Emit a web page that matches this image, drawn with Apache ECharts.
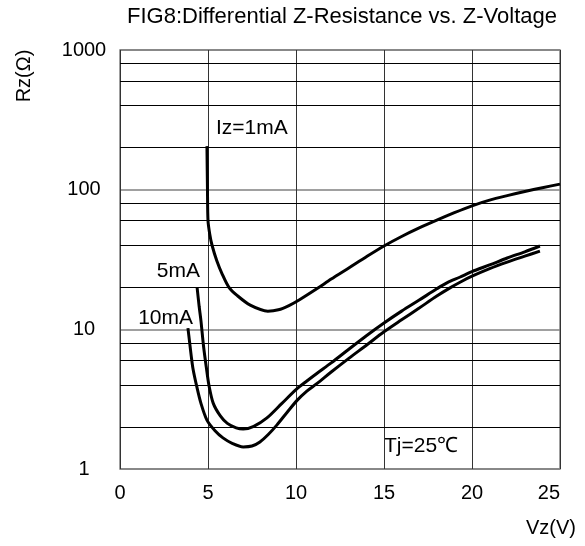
<!DOCTYPE html>
<html>
<head>
<meta charset="utf-8">
<script src="https://cdn.jsdelivr.net/npm/echarts@6/dist/echarts.min.js"></script>
<style>
  html, body { margin: 0; padding: 0; background: #fff; }
  #chart { width: 585px; height: 546px; }
</style>
</head>
<body>
<div id="chart"></div>
<script>
// Zener differential resistance Rz (ohm) against zener voltage Vz (V), Tj = 25 C
const xTicks = [0, 5, 10, 15, 20, 25];
const yDecades = [1, 10, 100, 1000];
const yMinorLines = [2, 4, 6, 8, 20, 40, 60, 80, 200, 400, 600, 800];

const iz1mA = [
  [4.94, 205], [4.97, 100], [5.0, 60], [5.1, 48], [5.23, 40], [5.5, 31],
  [5.8, 25], [6.19, 20], [6.65, 17.5], [7.4, 14.9], [8.4, 13.5], [9.0, 13.8],
  [9.6, 14.8], [10.2, 16.3], [11.2, 19.6], [12.0, 22.9], [13.0, 27.5],
  [14.0, 33.1], [15.0, 39.5], [16.0, 46.2], [17.0, 53.2], [18.0, 60.5],
  [19.0, 68.4], [20.0, 76.6], [21.0, 84.1], [22.0, 90.6], [23.0, 97],
  [24.0, 103.3], [25.0, 109.6]
];

const iz5mA = [
  [4.38, 20], [4.5, 14.5], [4.6, 11.5], [4.75, 7.5], [4.9, 5.4], [5.05, 4.0],
  [5.3, 2.95], [5.7, 2.4], [6.1, 2.12], [6.6, 1.97], [7.0, 1.93], [7.6, 2.02],
  [8.35, 2.32], [9.2, 2.95], [10.0, 3.7], [10.6, 4.25], [11.2, 4.85],
  [12.0, 5.75], [13.0, 7.2], [14.0, 9.0], [15.0, 11.1], [16.0, 13.5],
  [17.0, 16.2], [18.0, 19.5], [18.6, 21.6], [19.3, 23.6], [20.0, 25.9],
  [21.0, 28.9], [22.0, 32.4], [23.0, 35.9], [23.86, 39.5]
];

const iz10mA = [
  [3.86, 10.2], [3.95, 8.2], [4.05, 6.4], [4.15, 5.2], [4.36, 3.9],
  [4.6, 2.95], [4.94, 2.24], [5.4, 1.88], [5.85, 1.67], [6.4, 1.52],
  [7.0, 1.44], [7.5, 1.46], [7.95, 1.56], [8.45, 1.78], [8.92, 2.07],
  [9.5, 2.55], [10.06, 3.1], [10.6, 3.6], [11.2, 4.1], [12.0, 4.95],
  [13.0, 6.2], [14.0, 7.7], [15.0, 9.6], [16.0, 11.7], [17.0, 14.2],
  [18.0, 17.3], [18.75, 19.8], [19.4, 22.0], [20.0, 24.0], [21.0, 27.2],
  [22.0, 30.3], [23.0, 33.4], [23.86, 36.3]
];

const FONT = '"Liberation Sans", Arial, sans-serif';
const chart = echarts.init(document.getElementById('chart'), null, { renderer: 'canvas' });

function curve(name, data, extra) {
  return Object.assign({
    name: name,
    type: 'line',
    data: data,
    showSymbol: false,
    smooth: 0.3,
    lineStyle: { color: '#000', width: 3 },
    silent: true,
    z: 5
  }, extra || {});
}

function label(text, x, y, align, size) {
  return {
    type: 'text',
    style: {
      text: text, x: x, y: y, font: (size || 21) + 'px ' + FONT, fill: '#000',
      textAlign: align, textVerticalAlign: 'middle'
    }
  };
}

chart.setOption({
  animation: false,
  backgroundColor: '#fff',
  textStyle: { fontFamily: FONT },
  grid: {
    left: 120, right: 25, top: 50, bottom: 77,
    show: true, borderColor: '#808080', borderWidth: 1.5
  },
  xAxis: {
    type: 'value',
    min: xTicks[0],
    max: xTicks[xTicks.length - 1],
    interval: 5,
    axisLine: { show: false },
    axisTick: { show: false },
    axisLabel: {
      color: '#000', fontSize: 20, fontFamily: FONT, margin: 14,
      alignMaxLabel: 'right'
    },
    splitLine: { show: true, lineStyle: { color: '#333', width: 1 } }
  },
  yAxis: {
    type: 'log',
    logBase: 10,
    min: yDecades[0],
    max: yDecades[yDecades.length - 1],
    axisLine: { show: false },
    axisTick: { show: false },
    axisLabel: {
      color: '#000', fontSize: 20, fontFamily: FONT, margin: 36, align: 'center',
      formatter: v => String(Math.round(v))
    },
    splitLine: { show: true, lineStyle: { color: '#808080', width: 1.5 } }
  },
  series: [
    curve('Iz=1mA', iz1mA, {
      markLine: {
        silent: true,
        symbol: 'none',
        label: { show: false },
        lineStyle: { color: '#000', width: 1, type: 'solid' },
        data: yMinorLines.map(v => ({ yAxis: v }))
      }
    }),
    curve('5mA', iz5mA),
    curve('10mA', iz10mA)
  ],
  graphic: [
    label('FIG8:Differential Z-Resistance vs. Z-Voltage', 342, 17, 'center', 22),
    {
      type: 'text', x: 24, y: 76, rotation: Math.PI / 2,
      style: {
        text: 'Rz(Ω)', font: '20px ' + FONT, fill: '#000',
        textAlign: 'center', textVerticalAlign: 'middle'
      }
    },
    label('Vz(V)', 551, 528, 'center', 20),
    label('Iz=1mA', 216, 128, 'left'),
    label('5mA', 200, 271, 'right'),
    label('10mA', 193, 318, 'right'),
    label('Tj=25℃', 384, 446, 'left')
  ]
});
</script>
</body>
</html>
